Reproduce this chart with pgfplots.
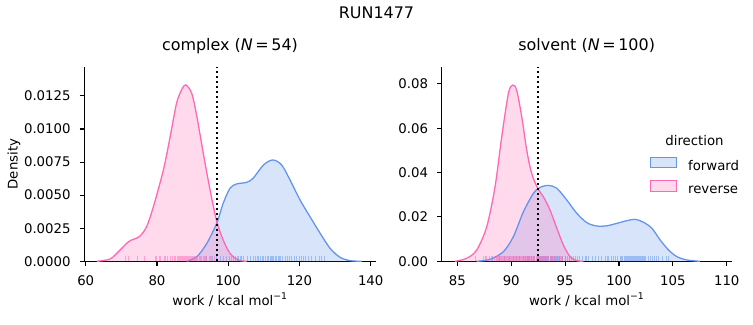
\documentclass[border=0pt]{standalone}
\usepackage{fontspec}
\setmainfont{DejaVu Sans}
\usepackage{pgfplots}
\usepackage{pgfplotstable}
\pgfplotsset{compat=1.18}
\definecolor{cblue}{HTML}{6495ED}
\definecolor{cpink}{HTML}{FF69B4}
\newcommand{\tickfont}{\fontsize{13.35}{16}\selectfont}
\newcommand{\titlefont}{\fontsize{16}{19}\selectfont}

% KDE curves, complex
\pgfplotstableread[row sep=\\]{x y\\
63.1 0\\ 66.8 0.00017\\ 69.2 0.00073\\ 72.0 0.00148\\ 73.6 0.00168\\ 75.2 0.00190\\ 77.1 0.00262\\ 79.0 0.00413\\ 81.8 0.0069\\ 83.7 0.00942\\ 85.5 0.01195\\ 87.0 0.0130\\ 88.07 0.01333\\ 89.75 0.0127\\ 91.2 0.01094\\ 93.0 0.00817\\ 94.9 0.0054\\ 96.8 0.0030\\ 98.6 0.00160\\ 100.5 0.00060\\ 102.8 0.0001\\ 105.2 0\\
}\kdeCR
\pgfplotstableread[row sep=\\]{x y\\
88.35 0\\ 91.2 0.00035\\ 94.0 0.00136\\ 96.8 0.0029\\ 98.6 0.00439\\ 100.5 0.00552\\ 102.4 0.00585\\ 105.2 0.00597\\ 107.0 0.00628\\ 109.9 0.00728\\ 112.5 0.00766\\ 115.0 0.00728\\ 117.35 0.00615\\ 120.15 0.00464\\ 122.96 0.00337\\ 125.8 0.00212\\ 128.6 0.00098\\ 131.4 0.0003\\ 134.2 0.00005\\ 137.5 0\\
}\kdeCF
% KDE curves, solvent
\pgfplotstableread[row sep=\\]{x y\\
84.79 0\\ 85.87 0.00135\\ 86.8 0.0051\\ 87.73 0.0156\\ 88.5 0.0336\\ 89.12 0.0561\\ 89.74 0.0757\\ 90.14 0.0794\\ 90.5 0.0772\\ 90.98 0.0651\\ 91.44 0.0501\\ 91.9 0.0396\\ 92.46 0.0329\\ 92.98 0.0291\\ 93.6 0.0231\\ 94.23 0.0149\\ 94.84 0.0073\\ 95.46 0.0021\\ 96.08 0.0003\\ 96.7 0\\
}\kdeSR
\pgfplotstableread[row sep=\\]{x y\\
86.8 0\\ 88.04 0.0009\\ 89.27 0.0043\\ 90.2 0.0111\\ 91.13 0.0223\\ 92.06 0.0306\\ 92.68 0.0333\\ 93.45 0.0342\\ 94.23 0.0329\\ 95.16 0.0276\\ 96.09 0.0216\\ 97.02 0.0174\\ 97.94 0.0159\\ 98.87 0.0160\\ 99.8 0.0171\\ 100.73 0.0183\\ 101.5 0.0189\\ 102.27 0.0176\\ 103.05 0.0149\\ 103.82 0.0096\\ 104.6 0.0051\\ 105.37 0.0021\\ 106.3 0.0006\\ 107.5 0\\
}\kdeSF

% rug data (work value, rug tick height), complex
\pgfplotstableread[row sep=\\]{w h\\
71.2 0.00037\\72.0 0.00037\\74.5 0.00037\\76.6 0.00037\\79.5 0.00037\\79.9 0.00037\\80.6 0.00037\\81.0 0.00037\\82.0 0.00037\\82.5 0.00037\\
82.9 0.00037\\83.9 0.00037\\84.4 0.00037\\85.0 0.00037\\85.3 0.00037\\85.7 0.00037\\86.0 0.00037\\86.2 0.00037\\86.5 0.00037\\86.7 0.00037\\
87.0 0.00037\\87.2 0.00037\\87.4 0.00037\\87.6 0.00037\\87.9 0.00037\\88.2 0.00037\\88.4 0.00037\\88.6 0.00037\\88.8 0.00037\\89.1 0.00037\\
89.3 0.00037\\89.5 0.00037\\89.7 0.00037\\89.9 0.00037\\90.2 0.00037\\90.4 0.00037\\90.7 0.00037\\91.0 0.00037\\91.2 0.00037\\91.5 0.00037\\
91.9 0.00037\\92.3 0.00037\\92.6 0.00037\\93.0 0.00037\\93.2 0.00037\\93.6 0.00037\\94.0 0.00037\\94.6 0.00037\\95.0 0.00037\\95.4 0.00037\\
96.0 0.00037\\89.0 0.00037\\88.0 0.00037\\87.8 0.00037\\
}\rugCR
\pgfplotstableread[row sep=\\]{w h\\
93.8 0.00037\\95.5 0.00037\\96.8 0.00037\\97.8 0.00037\\98.6 0.00037\\99.6 0.00037\\100.3 0.00037\\101.0 0.00037\\101.6 0.00037\\102.1 0.00037\\
102.6 0.00037\\103.0 0.00037\\103.3 0.00037\\103.8 0.00037\\104.4 0.00037\\105.3 0.00037\\106.3 0.00037\\107.0 0.00037\\107.7 0.00037\\108.2 0.00037\\
108.6 0.00037\\109.1 0.00037\\109.6 0.00037\\110.0 0.00037\\110.5 0.00037\\110.9 0.00037\\111.4 0.00037\\111.8 0.00037\\112.1 0.00037\\112.5 0.00037\\
112.8 0.00037\\113.2 0.00037\\113.6 0.00037\\114.0 0.00037\\114.3 0.00037\\114.8 0.00037\\115.3 0.00037\\116.1 0.00037\\116.6 0.00037\\117.2 0.00037\\
117.8 0.00037\\118.5 0.00037\\119.2 0.00037\\119.9 0.00037\\120.5 0.00037\\121.1 0.00037\\121.8 0.00037\\122.6 0.00037\\123.5 0.00037\\124.6 0.00037\\
125.5 0.00037\\126.2 0.00037\\126.9 0.00037\\111.2 0.00037\\
}\rugCF
% rug data, solvent
\pgfplotstableread[row sep=\\]{w h\\
86.7 0.0022\\87.4 0.0022\\87.7 0.0022\\88.0 0.0022\\88.2 0.0022\\88.4 0.0022\\88.6 0.0022\\88.7 0.0022\\88.9 0.0022\\89.0 0.0022\\
89.1 0.0022\\89.2 0.0022\\89.3 0.0022\\89.4 0.0022\\89.5 0.0022\\89.55 0.0022\\89.6 0.0022\\89.65 0.0022\\89.7 0.0022\\89.75 0.0022\\
89.8 0.0022\\89.85 0.0022\\89.9 0.0022\\89.95 0.0022\\90.0 0.0022\\90.02 0.0022\\90.05 0.0022\\90.08 0.0022\\90.1 0.0022\\90.12 0.0022\\
90.15 0.0022\\90.18 0.0022\\90.2 0.0022\\90.23 0.0022\\90.26 0.0022\\90.3 0.0022\\90.33 0.0022\\90.36 0.0022\\90.4 0.0022\\90.43 0.0022\\
90.46 0.0022\\90.5 0.0022\\90.54 0.0022\\90.58 0.0022\\90.62 0.0022\\90.66 0.0022\\90.7 0.0022\\90.75 0.0022\\90.8 0.0022\\90.85 0.0022\\
90.9 0.0022\\90.95 0.0022\\91.0 0.0022\\91.05 0.0022\\91.1 0.0022\\91.15 0.0022\\91.2 0.0022\\91.3 0.0022\\91.4 0.0022\\91.5 0.0022\\
91.6 0.0022\\91.7 0.0022\\91.8 0.0022\\91.9 0.0022\\92.0 0.0022\\92.1 0.0022\\92.2 0.0022\\92.3 0.0022\\92.4 0.0022\\92.5 0.0022\\
92.6 0.0022\\92.7 0.0022\\92.8 0.0022\\92.9 0.0022\\93.0 0.0022\\93.1 0.0022\\93.2 0.0022\\93.3 0.0022\\93.4 0.0022\\93.5 0.0022\\
93.6 0.0022\\93.7 0.0022\\93.85 0.0022\\94.0 0.0022\\94.15 0.0022\\94.3 0.0022\\94.45 0.0022\\94.6 0.0022\\94.8 0.0022\\95.0 0.0022\\
89.35 0.0022\\89.45 0.0022\\90.38 0.0022\\90.48 0.0022\\90.6 0.0022\\90.72 0.0022\\89.05 0.0022\\88.8 0.0022\\91.25 0.0022\\95.4 0.0022\\
}\rugSR
\pgfplotstableread[row sep=\\]{w h\\
87.6 0.0022\\88.3 0.0022\\88.9 0.0022\\89.4 0.0022\\89.8 0.0022\\90.2 0.0022\\90.5 0.0022\\90.8 0.0022\\91.1 0.0022\\91.3 0.0022\\
91.5 0.0022\\91.7 0.0022\\91.9 0.0022\\92.1 0.0022\\92.2 0.0022\\92.4 0.0022\\92.5 0.0022\\92.7 0.0022\\92.8 0.0022\\92.9 0.0022\\
93.0 0.0022\\93.1 0.0022\\93.2 0.0022\\93.3 0.0022\\93.4 0.0022\\93.5 0.0022\\93.6 0.0022\\93.7 0.0022\\93.8 0.0022\\93.9 0.0022\\
94.0 0.0022\\94.1 0.0022\\94.2 0.0022\\94.35 0.0022\\94.5 0.0022\\94.65 0.0022\\94.8 0.0022\\95.0 0.0022\\95.2 0.0022\\95.4 0.0022\\
95.6 0.0022\\95.8 0.0022\\96.0 0.0022\\96.3 0.0022\\96.6 0.0022\\96.9 0.0022\\97.2 0.0022\\97.5 0.0022\\97.8 0.0022\\98.1 0.0022\\
98.4 0.0022\\98.7 0.0022\\99.0 0.0022\\99.3 0.0022\\99.5 0.0022\\99.7 0.0022\\99.9 0.0022\\100.1 0.0022\\100.3 0.0022\\100.5 0.0022\\
100.6 0.0022\\100.7 0.0022\\100.8 0.0022\\100.9 0.0022\\101.0 0.0022\\101.1 0.0022\\101.2 0.0022\\101.3 0.0022\\101.4 0.0022\\101.5 0.0022\\
101.6 0.0022\\101.7 0.0022\\101.8 0.0022\\101.9 0.0022\\102.0 0.0022\\102.1 0.0022\\102.2 0.0022\\102.3 0.0022\\102.4 0.0022\\102.5 0.0022\\
102.7 0.0022\\102.9 0.0022\\103.1 0.0022\\103.3 0.0022\\103.5 0.0022\\103.7 0.0022\\104.0 0.0022\\104.4 0.0022\\104.6 0.0022\\97.0 0.0022\\
93.05 0.0022\\93.45 0.0022\\93.65 0.0022\\92.6 0.0022\\94.25 0.0022\\91.6 0.0022\\100.2 0.0022\\101.25 0.0022\\98.9 0.0022\\96.1 0.0022\\
}\rugSF

\pgfplotsset{
  kdestyle/.style={
    scale only axis, height=194.6bp,
    axis lines=left, axis line style={-, line width=1.07bp},
    tick align=outside, major tick length=4.7bp,
    tick style={black, line width=1.07bp},
    ymin=0, enlargelimits=false, clip=false,
    /pgf/number format/assume math mode=true,
    tick label style={font=\tickfont},
    xticklabel style={yshift=-6bp},
    yticklabel style={xshift=-5.5bp},
    label style={font=\tickfont},
    every axis title/.style={font=\titlefont, at={(0.5,1)}, anchor=base, yshift=16bp},
    xlabel={work / kcal mol\textsuperscript{−1}},
    xlabel style={at={(0.5,0)}, anchor=base, yshift=-43.7bp},
    scaled y ticks=false,
  },
  kdeline/.style={line width=1.3bp, smooth, tension=0.5, forget plot},
  kdefill/.style={draw=none, fill opacity=0.25, smooth, tension=0.5, forget plot},
  rug/.style={ycomb, line width=0.9bp, opacity=0.5, mark=none, forget plot},
  vline/.style={black, line width=2bp, dash pattern=on 2bp off 3.1bp, forget plot},
}

\begin{document}
\begin{tikzpicture}
\useasboundingbox (0,0) rectangle (753bp,325bp);
\node[font=\titlefont, anchor=base] at (376.5bp,306.7bp) {RUN1477};

\begin{axis}[kdestyle,
  at={(84.3bp,63.7bp)}, anchor=south west, width=291.4bp,
  xmin=59.6, xmax=141.4, ymax=0.01471,
  xtick={60,80,100,120,140},
  ytick={0,0.0025,0.005,0.0075,0.01,0.0125},
  yticklabel style={/pgf/number format/.cd, fixed, fixed zerofill, precision=4},
  title={complex (\textit{N}\,=\,54)},
  ylabel={Density},
  ylabel style={at={(axis description cs:-0.229,0.5)}, anchor=base},
]
\addplot[kdefill, fill=cblue] table[x=x,y=y] {\kdeCF} \closedcycle;
\addplot[kdefill, fill=cpink] table[x=x,y=y] {\kdeCR} \closedcycle;
\addplot[kdeline, cblue] table[x=x,y=y] {\kdeCF};
\addplot[kdeline, cpink] table[x=x,y=y] {\kdeCR};
\addplot[rug, cblue] table[x=w, y=h] {\rugCF};
\addplot[rug, cpink] table[x=w, y=h] {\rugCR};
\addplot[vline] coordinates {(96.9,0) (96.9,0.01471)};
\end{axis}

\begin{axis}[kdestyle,
  at={(441.7bp,63.7bp)}, anchor=south west, width=290bp,
  xmin=83.55, xmax=110.46, ymax=0.0877,
  xtick={85,90,95,100,105,110},
  ytick={0,0.02,0.04,0.06,0.08},
  yticklabel style={/pgf/number format/.cd, fixed, fixed zerofill, precision=2},
  title={solvent (\textit{N}\,=\,100)},
  legend style={at={(0.716,0.5375)}, anchor=north west, draw=none, fill=none,
    font=\tickfont, inner sep=0pt, row sep=7.5bp, column sep=0pt,
    nodes={inner sep=0pt, text height=9.5bp, text depth=2.5bp},
    /tikz/every odd column/.append style={column sep=10.7bp}},
  legend cell align=left,
  legend image code/.code={\draw[#1, line width=1.07bp] (0bp,-1bp) rectangle (26.8bp,9.4bp);},
]
\addplot[kdefill, fill=cblue] table[x=x,y=y] {\kdeSF} \closedcycle;
\addplot[kdefill, fill=cpink] table[x=x,y=y] {\kdeSR} \closedcycle;
\addplot[kdeline, cblue] table[x=x,y=y] {\kdeSF};
\addplot[kdeline, cpink] table[x=x,y=y] {\kdeSR};
\addplot[rug, cblue] table[x=w, y=h] {\rugSF};
\addplot[rug, cpink] table[x=w, y=h] {\rugSR};
\addplot[vline] coordinates {(92.47,0) (92.47,0.0877)};
\addlegendimage{draw=cblue, fill=cblue!25}
\addlegendentry{forward}
\addlegendimage{draw=cpink, fill=cpink!25}
\addlegendentry{reverse}
\end{axis}
\node[font=\tickfont] at (694.5bp,184.2bp) {direction};
\end{tikzpicture}
\end{document}
